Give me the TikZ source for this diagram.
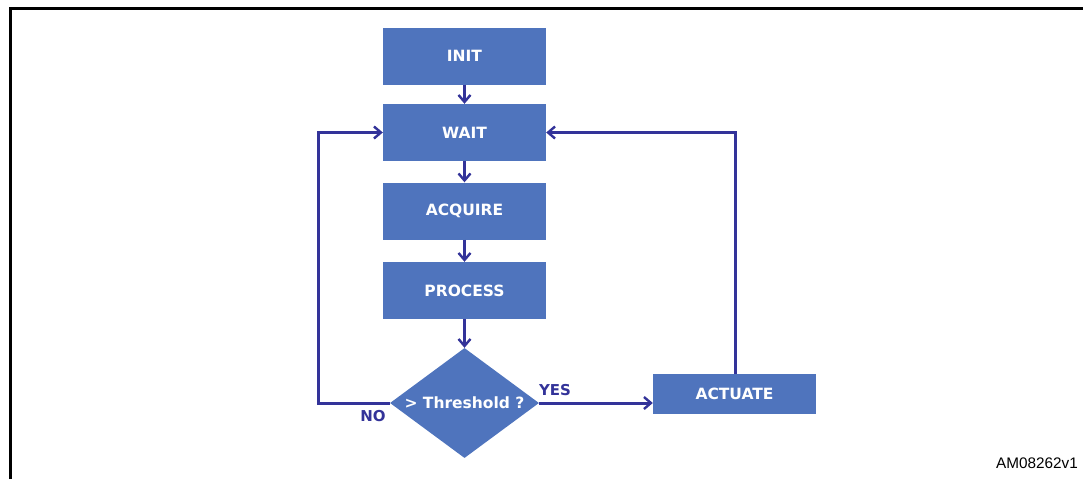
\documentclass[tikz,border=0pt]{standalone}
\usepackage{fontspec}
\setmainfont{DejaVu Sans}
\newfontfamily\arialfont{Liberation Sans}
\usetikzlibrary{arrows.meta,shapes.geometric}
\definecolor{boxblue}{RGB}{79,116,189}
\definecolor{linkblue}{RGB}{51,51,153}
\tikzset{
  stepbox/.style={draw=none,fill=boxblue,minimum width=163pt,minimum height=57pt,inner sep=0pt,
    text=white,font=\bfseries\fontsize{15.5}{18}\selectfont},
  decision/.style={diamond,fill=boxblue,draw=none,inner sep=0pt,minimum width=149pt,minimum height=110pt,
    aspect=1.35},
  link/.style={draw=linkblue,line width=3pt,line join=miter,-{Straight Barb[length=7pt,width=12pt,line width=2.4pt]}},
  lbl/.style={text=linkblue,font=\bfseries\fontsize{15}{18}\selectfont,inner sep=0pt}
}
\begin{document}
\begin{tikzpicture}[x=1pt,y=-1pt]
\useasboundingbox (0,0) rectangle (1083,479);
\draw[line width=3pt] (10,479) -- (10,8) -- (1083,8);
\node[stepbox] (init) at (464.5,56) {INIT};
\node[stepbox] (wait) at (464.5,132.5) {WAIT};
\node[stepbox] (acq) at (464.5,211) {ACQUIRE};
\node[stepbox] (proc) at (464.5,290.5) {PROCESS};
\node[decision] (dec) at (464.5,403) {};
\node[text=white,font=\bfseries\fontsize{15.5}{18}\selectfont] (declbl) at (464.5,403) {> Threshold ?};
\node[stepbox,minimum height=40pt] (act) at (734.5,394) {ACTUATE};
\coordinate (lc) at (318,403);
\coordinate (rt) at (735,374);
\draw[link] (init.south) -- (wait.north);
\draw[link] (wait.south) -- (acq.north);
\draw[link] (acq.south) -- (proc.north);
\draw[link] (proc.south) -- (dec.north);
\draw[link] (dec.west) -- (lc) |- (wait.west);
\draw[link] (dec.east) -- (act.west |- dec.east);
\draw[link] (rt) |- (wait.east);
\node[lbl] (no) at (373,416) {NO};
\node[lbl] (yes) at (555,390) {YES};
\node[anchor=east,font=\arialfont\fontsize{15.3}{18}\selectfont,inner sep=0pt] (id) at (1078,463) {AM08262v1};
\end{tikzpicture}
\end{document}
